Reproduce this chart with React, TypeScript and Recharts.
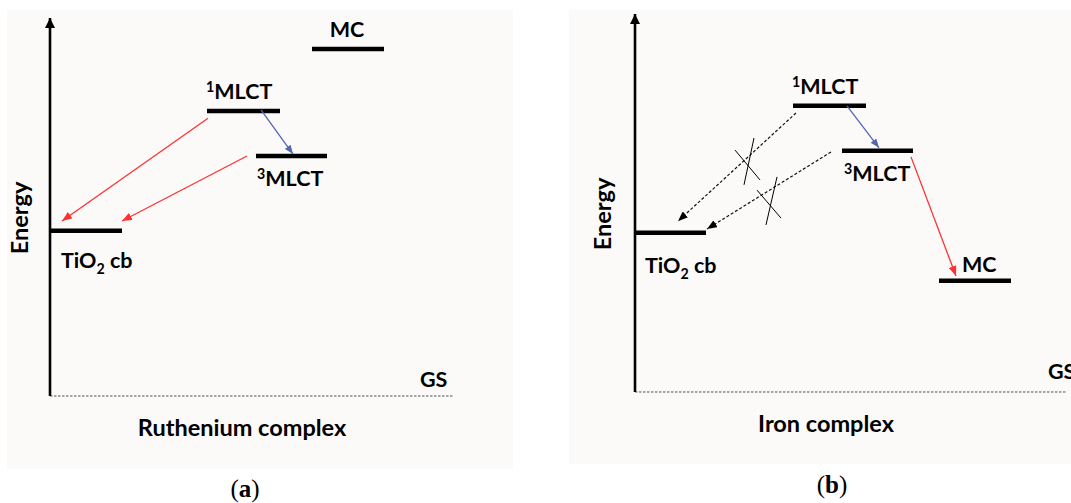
import React from 'react';
import { ComposedChart, Line, Scatter, XAxis, YAxis, ReferenceArea } from 'recharts';

// ---------- Panel (a): Ruthenium complex ----------
const levelsA = [
  { name: 'MC', x1: 6.55, x2: 8.35, e: 9.18 },
  { name: '1MLCT', x1: 3.925, x2: 5.75, e: 7.54 },
  { name: '3MLCT', x1: 5.15, x2: 6.925, e: 6.35 },
  { name: 'TiO2 cb', x1: 0, x2: 1.8, e: 4.37 },
];
const transfersA = [
  { x1: 3.95, y1: 7.35, x2: 0.3, y2: 4.63, kind: 'red' },
  { x1: 4.925, y1: 6.35, x2: 1.8, y2: 4.63, kind: 'red' },
  { x1: 5.275, y1: 7.57, x2: 6.075, y2: 6.4, kind: 'blue' },
];
const crossesA: { x1: number; y1: number; x2: number; y2: number }[] = [];
const labelsA = [
  { x: 7.425, y: 9.5, text: 'MC', anchor: 'middle', kind: 'label' },
  { x: 3.9, y: 7.86, text: '^{1}MLCT', anchor: 'start', kind: 'label' },
  { x: 5.175, y: 5.56, text: '^{3}MLCT', anchor: 'start', kind: 'label' },
  { x: 0.275, y: 3.39, text: 'TiO_{2} cb', anchor: 'start', kind: 'label' },
  { x: 9.25, y: 0.24, text: 'GS', anchor: 'start', kind: 'label' },
  { x: 4.8, y: -1.06, text: 'Ruthenium complex', anchor: 'middle', kind: 'title' },
  { x: -0.55, y: 4.71, text: 'Energy', anchor: 'middle', kind: 'ytitle' },
  { x: 4.875, y: -2.68, text: 'a', anchor: 'middle', kind: 'caption' },
];
const gsEndA = 10.075;
const panelA = {
  left: 0, width: 540,
  xDomain: [-1.25, 12.25], yDomain: [-2.831, 10.476],
  bg: { x1: -1.075, x2: 11.575, y1: -1.931, y2: 10.212 },
  levels: levelsA, transfers: transfersA, crosses: crossesA, labels: labelsA, gsEnd: gsEndA, id: 'a',
};

// ---------- Panel (b): Iron complex ----------
const levelsB = [
  { name: '1MLCT', x1: 3.95, x2: 5.775, e: 7.57 },
  { name: '3MLCT', x1: 5.175, x2: 6.95, e: 6.38 },
  { name: 'TiO2 cb', x1: 0, x2: 1.775, e: 4.21 },
  { name: 'MC', x1: 7.6, x2: 9.4, e: 2.94 },
];
const transfersB = [
  { x1: 4.025, y1: 7.38, x2: 1.075, y2: 4.52, kind: 'blocked' },
  { x1: 4.9, y1: 6.35, x2: 1.8, y2: 4.31, kind: 'blocked' },
  { x1: 5.3, y1: 7.57, x2: 6.1, y2: 6.46, kind: 'blue' },
  { x1: 6.9, y1: 6.22, x2: 8.025, y2: 3.07, kind: 'red' },
];
const crossesB = [
  { x1: 2.5, y1: 6.4, x2: 3.125, y2: 5.61 },
  { x1: 2.975, y1: 6.72, x2: 2.725, y2: 5.48 },
  { x1: 3.05, y1: 5.34, x2: 3.65, y2: 4.6 },
  { x1: 3.55, y1: 5.69, x2: 3.275, y2: 4.42 },
];
const labelsB = [
  { x: 3.925, y: 7.88, text: '^{1}MLCT', anchor: 'start', kind: 'label' },
  { x: 5.225, y: 5.58, text: '^{3}MLCT', anchor: 'start', kind: 'label' },
  { x: 8.175, y: 3.17, text: 'MC', anchor: 'start', kind: 'label' },
  { x: 0.25, y: 3.15, text: 'TiO_{2} cb', anchor: 'start', kind: 'label' },
  { x: 10.325, y: 0.34, text: 'GS', anchor: 'start', kind: 'label' },
  { x: 4.775, y: -1.06, text: 'Iron complex', anchor: 'middle', kind: 'title' },
  { x: -0.6, y: 4.71, text: 'Energy', anchor: 'middle', kind: 'ytitle' },
  { x: 4.925, y: -2.68, text: 'b', anchor: 'middle', kind: 'caption' },
];
const gsEndB = 10.775;
const panelB = {
  left: 540, width: 531,
  xDomain: [-2.375, 10.9], yDomain: [-2.937, 10.37],
  bg: { x1: -1.65, x2: 10.9, y1: -1.905, y2: 10.106 },
  levels: levelsB, transfers: transfersB, crosses: crossesB, labels: labelsB, gsEnd: gsEndB, id: 'b',
};

const AXIS_TOP = 10;
const HEIGHT = 503;
const SANS = 'Lato, "Open Sans", sans-serif';

const kindStyle: Record<string, { stroke: string; width: number; dash?: string; marker: string }> = {
  red: { stroke: '#ff3131', width: 1.3, marker: 'red' },
  blue: { stroke: '#5467ad', width: 1.3, marker: 'blue' },
  blocked: { stroke: '#111', width: 1.2, dash: '3 2', marker: 'black' },
};

function parseRich(text: string) {
  const parts = text.split(/(\^\{[^}]*\}|_\{[^}]*\})/).filter((s) => s.length > 0);
  return parts.map((s) => {
    if (s.startsWith('^{')) return { t: s.slice(2, -1), mode: 'sup' };
    if (s.startsWith('_{')) return { t: s.slice(2, -1), mode: 'sub' };
    return { t: s, mode: 'normal' };
  });
}

function LabelShape(props: any) {
  const { cx, cy } = props;
  const p = props.payload || props;
  if (cx == null || cy == null) return null;
  if (p.kind === 'caption') {
    return (
      <text x={cx} y={cy} textAnchor="middle" fontFamily='"Liberation Serif", "DejaVu Serif", serif' fontSize={25} fill="#000">
        (<tspan fontWeight={700}>{p.text}</tspan>)
      </text>
    );
  }
  const size = p.kind === 'label' ? 21.5 : 23.5;
  const parts = parseRich(p.text);
  let shift = 0;
  const spans = parts.map((pt, i) => {
    let target = 0;
    let fs = size;
    if (pt.mode === 'sup') { target = -0.34 * size; fs = 0.66 * size; }
    if (pt.mode === 'sub') { target = 0.27 * size; fs = 0.66 * size; }
    const dy = target - shift;
    shift = target;
    return (
      <tspan key={i} dy={dy} fontSize={fs}>{pt.t}</tspan>
    );
  });
  return (
    <text
      x={cx}
      y={cy}
      textAnchor={p.anchor}
      fontFamily={SANS}
      fontWeight={700}
      fontSize={size}
      fill="#000"
      transform={p.kind === 'ytitle' ? `rotate(-90 ${cx} ${cy})` : undefined}
    >
      {spans}
    </text>
  );
}

function Panel({ cfg }: { cfg: typeof panelA }) {
  const id = cfg.id;
  return (
    <div style={{ position: 'absolute', left: cfg.left, top: 0, width: cfg.width, height: HEIGHT }}>
      <ComposedChart width={cfg.width} height={HEIGHT} margin={{ top: 0, right: 0, bottom: 0, left: 0 }}>
        <defs>
          <marker id={`${id}-red`} viewBox="0 0 10 8" refX={10} refY={4} markerWidth={10} markerHeight={8} markerUnits="userSpaceOnUse" orient="auto">
            <path d="M0,0 L10,4 L0,8 z" fill="#ff3131" />
          </marker>
          <marker id={`${id}-blue`} viewBox="0 0 9 7" refX={9} refY={3.5} markerWidth={9} markerHeight={7} markerUnits="userSpaceOnUse" orient="auto">
            <path d="M0,0 L9,3.5 L0,7 z" fill="#5467ad" />
          </marker>
          <marker id={`${id}-black`} viewBox="0 0 10 8" refX={10} refY={4} markerWidth={10} markerHeight={8} markerUnits="userSpaceOnUse" orient="auto">
            <path d="M0,0 L10,4 L0,8 z" fill="#000" />
          </marker>
          <marker id={`${id}-axis`} viewBox="0 0 10 10" refX={10} refY={5} markerWidth={10} markerHeight={10} markerUnits="userSpaceOnUse" orient="auto">
            <path d="M0,0 L10,5 L0,10 z" fill="#000" />
          </marker>
        </defs>
        <XAxis type="number" dataKey="x" domain={cfg.xDomain as any} hide allowDataOverflow />
        <YAxis type="number" dataKey="y" domain={cfg.yDomain as any} hide allowDataOverflow />
        <ReferenceArea x1={cfg.bg.x1} x2={cfg.bg.x2} y1={cfg.bg.y1} y2={cfg.bg.y2} fill="#fcfaf9" fillOpacity={1} stroke="none" ifOverflow="visible" />
        {/* ground state dashed line */}
        <Line
          data={[{ x: 0, y: 0 }, { x: cfg.gsEnd, y: 0 }]}
          dataKey="y" stroke="#555" strokeWidth={1} strokeDasharray="2.5 1.5"
          dot={false} activeDot={false} isAnimationActive={false} type="linear"
        />
        {/* energy axis */}
        <Line
          data={[{ x: 0, y: 0 }, { x: 0, y: AXIS_TOP }]}
          dataKey="y" stroke="#000" strokeWidth={2.6}
          dot={false} activeDot={false} isAnimationActive={false} type="linear"
          markerEnd={`url(#${id}-axis)`}
        />
        {cfg.levels.map((lv, i) => (
          <Line
            key={`lv${i}`}
            data={[{ x: lv.x1, y: lv.e }, { x: lv.x2, y: lv.e }]}
            dataKey="y" stroke="#000" strokeWidth={4.5}
            dot={false} activeDot={false} isAnimationActive={false} type="linear"
          />
        ))}
        {cfg.transfers.map((t, i) => {
          const st = kindStyle[t.kind];
          return (
            <Line
              key={`tr${i}`}
              data={[{ x: t.x1, y: t.y1 }, { x: t.x2, y: t.y2 }]}
              dataKey="y" stroke={st.stroke} strokeWidth={st.width} strokeDasharray={st.dash}
              dot={false} activeDot={false} isAnimationActive={false} type="linear"
              markerEnd={`url(#${id}-${st.marker})`}
            />
          );
        })}
        {cfg.crosses.map((c, i) => (
          <Line
            key={`cr${i}`}
            data={[{ x: c.x1, y: c.y1 }, { x: c.x2, y: c.y2 }]}
            dataKey="y" stroke="#000" strokeWidth={1}
            dot={false} activeDot={false} isAnimationActive={false} type="linear"
          />
        ))}
        <Scatter data={cfg.labels} shape={LabelShape} isAnimationActive={false} />
      </ComposedChart>
    </div>
  );
}

export default function App() {
  return (
    <div style={{ position: 'absolute', left: 0, top: 0, width: 1071, height: HEIGHT, background: '#fff', overflow: 'hidden' }}>
      <Panel cfg={panelA} />
      <Panel cfg={panelB} />
    </div>
  );
}
